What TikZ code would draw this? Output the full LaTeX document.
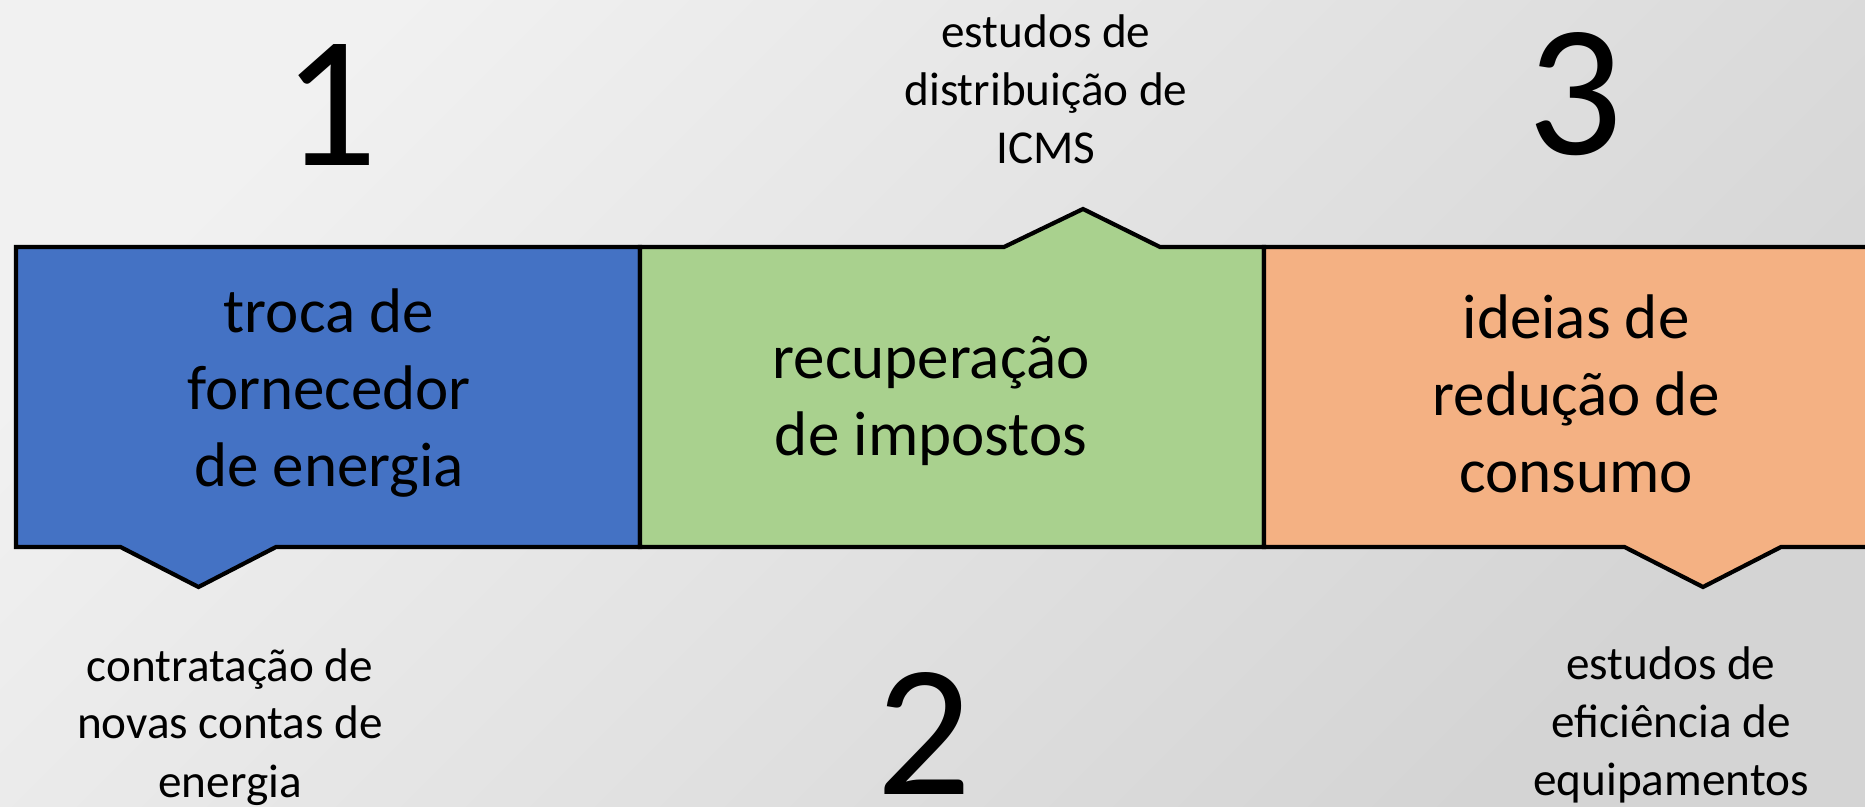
\documentclass[tikz,border=0pt]{standalone}
\usepackage{fontspec}
\setmainfont{Carlito}
\definecolor{boxblue}{HTML}{4472C4}
\definecolor{boxgreen}{HTML}{A9D18E}
\definecolor{boxorange}{HTML}{F4B183}
\definecolor{bglight}{HTML}{F1F1F1}
\definecolor{bgdark}{HTML}{D4D4D4}

\begin{document}
\begin{tikzpicture}[x=0.5pt,y=-0.5pt,line width=2.1pt,line join=miter,
    box/.style={draw=black}, box text/.style={align=center,anchor=base,inner sep=0pt,font=\fontsize{31.5}{38.5}\selectfont},
    note text/.style={align=center,anchor=base,inner sep=0pt,font=\fontsize{23.6}{29}\selectfont},
    big number/.style={anchor=base,inner sep=0pt,font=\fontsize{94}{94}\selectfont}]

  \useasboundingbox (0,0) rectangle (1865,807);
  \shade[top color=bglight,bottom color=bgdark,shading angle=45] (0,0) rectangle (1865,807);
  \clip (0,0) rectangle (1865,807);

  % the three boxes with their pointers
  \draw[box,fill=boxblue]   (16,247) -- (640,247) -- (640,547) -- (276,547) -- (198.5,587)
                            -- (120.5,547) -- (16,547) -- cycle;
  \draw[box,fill=boxgreen]  (640,247) -- (1004,247) -- (1083,209) -- (1160,247) -- (1264,247)
                            -- (1264,547) -- (640,547) -- cycle;
  \draw[box,fill=boxorange] (1264,247) -- (1880,247) -- (1880,547) -- (1781,547) -- (1703,587)
                            -- (1624.5,547) -- (1264,547) -- cycle;

  % base anchor sits on the last line
  \node[box text] (a) at (329,487)  {troca de\\fornecedor\\de energia};
  \node[box text] (b) at (931,456)  {recuperação\\de impostos};
  \node[box text] (c) at (1576,493) {ideias de\\redução de\\consumo};

  \node[note text] (na) at (230,797)  {contratação de\\novas contas de\\energia};
  \node[note text] (nb) at (1046,164) {estudos de\\distribuição de\\ICMS};
  \node[note text] (nc) at (1671,795) {estudos de\\eficiência de\\equipamentos};

  \node[big number] (n1) at (330,166)  {1};
  \node[big number] (n2) at (924,794)  {2};
  \node[big number] (n3) at (1575,155) {3};

\end{tikzpicture}
\end{document}
